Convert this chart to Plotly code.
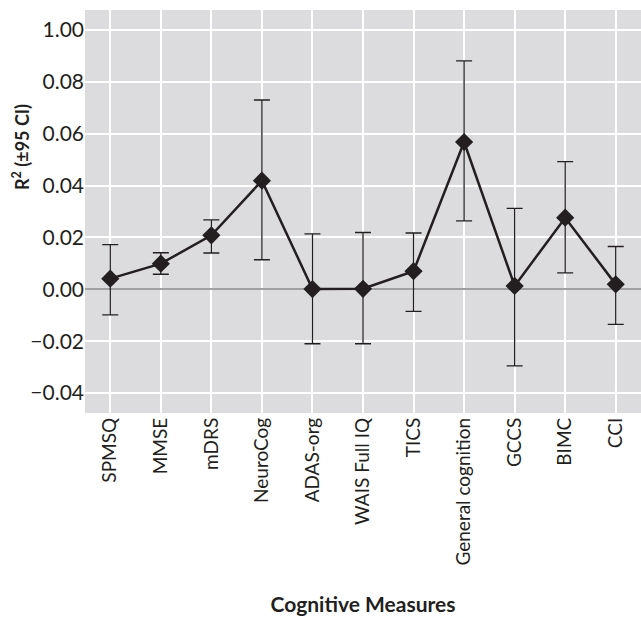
import plotly.graph_objects as go

categories = ["SPMSQ", "MMSE", "mDRS", "NeuroCog", "ADAS-org", "WAIS Full IQ",
              "TICS", "General cognition", "GCCS", "BIMC", "CCI"]
r2 = [0.0041, 0.0099, 0.0208, 0.0419, 0.0001, 0.0002, 0.0070, 0.0568, 0.0013, 0.0276, 0.0019]
upper = [0.0172, 0.0141, 0.0268, 0.0730, 0.0214, 0.0219, 0.0217, 0.0881, 0.0312, 0.0492, 0.0165]
lower = [-0.0099, 0.0058, 0.0140, 0.0114, -0.0210, -0.0210, -0.0085, 0.0264, -0.0295, 0.0063, -0.0135]
y_tickvals = [0.10, 0.08, 0.06, 0.04, 0.02, 0.00, -0.02, -0.04]
y_ticktext = ["1.00", "0.08", "0.06", "0.04", "0.02", "0.00", "\u22120.02", "\u22120.04"]

err_plus = [u - v for u, v in zip(upper, r2)]
err_minus = [v - l for v, l in zip(r2, lower)]

ink = "#231f20"
font_family = "Lato, 'Noto Sans', sans-serif"

fig = go.Figure()
fig.add_trace(go.Scatter(
    x=categories, y=r2, mode="lines+markers",
    line=dict(color=ink, width=2.5),
    marker=dict(symbol="diamond", size=14, color=ink),
    error_y=dict(type="data", symmetric=False, array=err_plus, arrayminus=err_minus,
                 color=ink, thickness=1.3, width=8),
    showlegend=False,
))

fig.update_layout(
    width=641, height=618,
    margin=dict(l=85, r=0, t=10, b=205),
    paper_bgcolor="white",
    plot_bgcolor="#dcdcde",
    font=dict(family=font_family, color=ink),
    xaxis=dict(
        type="category", range=[-0.5, 10.5],
        tickangle=-90, tickfont=dict(size=19, color=ink),
        showgrid=True, gridcolor="white", gridwidth=2,
        ticks="", ticklen=0, zeroline=False,
        title=dict(text="<b>Cognitive Measures</b>", font=dict(size=21, color=ink), standoff=32),
        automargin=False,
    ),
    yaxis=dict(
        range=[-0.0477, 0.1077],
        tickvals=y_tickvals, ticktext=y_ticktext,
        tickfont=dict(size=21, color=ink),
        showgrid=True, gridcolor="white", gridwidth=2,
        zeroline=True, zerolinecolor="#a0a0a0", zerolinewidth=2,
        ticks="", ticklen=4, tickcolor="rgba(0,0,0,0)",
        title=None,
        automargin=False,
    ),
    annotations=[dict(
        text="<b>R<sup>2</sup> (±95 CI)</b>", textangle=-90,
        xref="paper", yref="paper", x=-0.0, xshift=-64, y=0.66,
        xanchor="center", yanchor="middle", showarrow=False,
        font=dict(size=18, color=ink),
    )],
)

fig.write_html("out.html")
